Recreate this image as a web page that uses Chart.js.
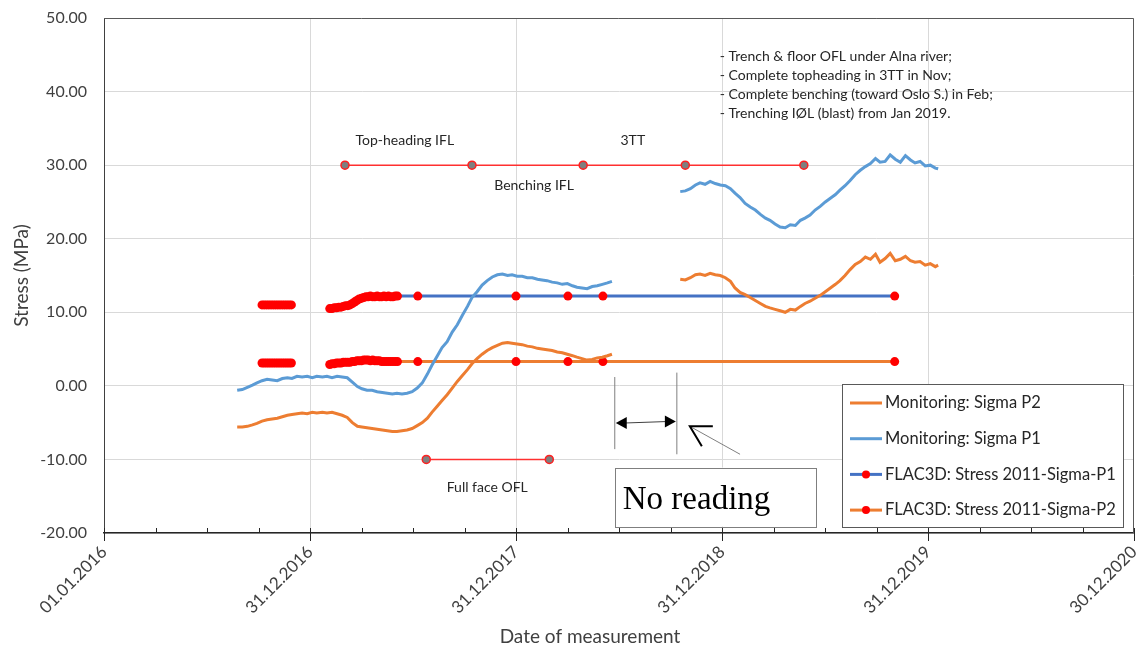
<!DOCTYPE html>
<html>
<head>
<meta charset="utf-8">
<script src="https://cdn.jsdelivr.net/npm/chart.js@4.4.1/dist/chart.umd.min.js"></script>
<style>
  html, body { margin: 0; padding: 0; background: #fff; }
</style>
</head>
<body>
<canvas id="stressChart" width="1141" height="652"></canvas>
<script>
// Days are counted from 01.01.2016, stress in MPa
const monitoringDays = [
  236, 245, 254, 263, 271, 280, 289, 298, 307, 316, 325, 333, 342, 351, 360, 369, 377, 387, 395, 404,
  413, 422, 431, 440, 449, 457, 466, 475, 484, 493, 502, 511, 519, 528, 537, 546, 555, 564, 573, 581,
  590, 599, 608, 617, 626, 635, 644, 652, 661, 670, 679, 688, 697, 706, 715, 723, 732, 741, 750, 759,
  768, 776, 785, 794, 803, 812, 821, 830, 838, 847, 856, 865, 874, 883, 892, 900,
  960, // no reading
  1021, 1030, 1039, 1048, 1056, 1065, 1074, 1083, 1092, 1101, 1110, 1118, 1127, 1136, 1145, 1154, 1163,
  1172, 1180, 1189, 1198, 1207, 1216, 1225, 1234, 1242, 1251, 1260, 1269, 1278, 1287, 1296, 1304, 1313,
  1322, 1331, 1340, 1349, 1358, 1367, 1375, 1384, 1393, 1402, 1411, 1420, 1429, 1437, 1446, 1455, 1464,
  1473, 1478
];
const sigmaP2Monitoring = [
  -5.6, -5.6, -5.5, -5.3, -5.1, -4.8, -4.6, -4.5, -4.4, -4.2, -4.0, -3.9, -3.8, -3.7, -3.8, -3.6, -3.7, -3.6, -3.7, -3.6,
  -3.8, -4.0, -4.3, -5.0, -5.5, -5.6, -5.7, -5.8, -5.9, -6.0, -6.1, -6.2, -6.2, -6.1, -6.0, -5.8, -5.4, -5.0, -4.4, -3.6,
  -2.8, -2.0, -1.2, -0.3, 0.6, 1.4, 2.2, 3.0, 3.7, 4.3, 4.8, 5.2, 5.5, 5.8, 5.9, 5.8, 5.7, 5.6, 5.4, 5.3,
  5.1, 5.0, 4.9, 4.8, 4.6, 4.5, 4.3, 4.1, 3.9, 3.7, 3.5, 3.6, 3.8, 3.9, 4.1, 4.3,
  null,
  14.5, 14.4, 14.7, 15.1, 15.2, 15.0, 15.3, 15.1, 15.0, 14.7, 14.2, 13.3, 12.7, 12.4, 12.0, 11.6, 11.2,
  10.8, 10.6, 10.4, 10.2, 10.0, 10.4, 10.3, 10.8, 11.2, 11.5, 11.9, 12.3, 12.8, 13.3, 13.8, 14.3, 15.0,
  15.8, 16.5, 16.9, 17.5, 17.2, 17.9, 16.8, 17.3, 18.0, 17.0, 17.2, 17.6, 17.0, 16.8, 16.9, 16.4, 16.6,
  16.2, 16.4
];
const sigmaP1Monitoring = [
  -0.6, -0.5, -0.2, 0.1, 0.4, 0.7, 0.9, 0.8, 0.7, 1.0, 1.1, 1.0, 1.3, 1.2, 1.3, 1.1, 1.3, 1.2, 1.3, 1.1,
  1.3, 1.2, 1.1, 0.5, -0.1, -0.4, -0.6, -0.6, -0.8, -0.9, -1.0, -1.1, -1.0, -1.1, -1.0, -0.8, -0.3, 0.4, 1.6, 2.8,
  4.0, 5.2, 6.0, 7.3, 8.3, 9.6, 10.8, 12.0, 12.8, 13.7, 14.3, 14.8, 15.1, 15.2, 15.0, 15.1, 14.9, 14.9, 14.7, 14.7,
  14.5, 14.4, 14.3, 14.1, 14.0, 13.8, 13.9, 13.6, 13.4, 13.3, 13.2, 13.5, 13.6, 13.8, 14.0, 14.2,
  null,
  26.4, 26.5, 26.8, 27.3, 27.6, 27.4, 27.8, 27.5, 27.3, 27.2, 26.8, 26.2, 25.6, 24.8, 24.3, 23.9, 23.3,
  22.8, 22.5, 22.0, 21.6, 21.5, 21.9, 21.8, 22.5, 22.8, 23.2, 23.9, 24.4, 25.0, 25.5, 26.0, 26.6, 27.2,
  27.9, 28.7, 29.3, 29.8, 30.2, 30.9, 30.4, 30.5, 31.4, 30.8, 30.4, 31.3, 30.7, 30.3, 30.5, 29.9, 30.0,
  29.6, 29.5
];

const flacDays = [
  280, 284, 288, 292, 296, 300, 304, 308, 312, 316, 320, 324, 328, 332,
  366,
  400, 404, 408, 412, 416, 420, 424, 428, 432, 436, 440, 444, 448, 452, 456, 460,
  464, 468, 472, 476, 480, 484, 488, 492, 496, 500, 504, 508, 512, 516, 520,
  556, 730, 822, 884, 1401
];
const flacSigmaP1 = [
  11.0, 11.0, 11.0, 11.0, 11.0, 11.0, 11.0, 11.0, 11.0, 11.0, 11.0, 11.0, 11.0, 11.0,
  null,
  10.5, 10.5, 10.6, 10.6, 10.7, 10.7, 10.8, 10.9, 10.9, 11.0, 11.2, 11.4, 11.6, 11.8, 11.9, 12.0,
  12.1, 12.1, 12.2, 12.1, 12.1, 12.2, 12.1, 12.1, 12.2, 12.1, 12.2, 12.1, 12.1, 12.2, 12.2,
  12.2, 12.2, 12.2, 12.2, 12.2
];
const flacSigmaP2 = [
  3.1, 3.1, 3.1, 3.1, 3.1, 3.1, 3.1, 3.1, 3.1, 3.1, 3.1, 3.1, 3.1, 3.1,
  null,
  2.9, 3.0, 3.0, 3.1, 3.1, 3.1, 3.2, 3.2, 3.2, 3.2, 3.3, 3.3, 3.4, 3.4, 3.4, 3.5,
  3.5, 3.5, 3.4, 3.5, 3.4, 3.4, 3.4, 3.3, 3.3, 3.3, 3.3, 3.3, 3.3, 3.3, 3.3,
  3.3, 3.3, 3.3, 3.3, 3.3
];

// excavation stages drawn as marker lines
const stageDays = [427, 652, 849, 1030, 1240];
const stageLevel = [30, 30, 30, 30, 30];
const fullFaceDays = [571, 789];
const fullFaceLevel = [-10, -10];

const xTickDays = [0, 365, 730, 1095, 1460, 1825];
const yTickValues = [-20, -10, 0, 10, 20, 30, 40, 50];

const noteLines = [
  '- Trench & floor OFL under Alna river;',
  '- Complete topheading in 3TT in Nov;',
  '- Complete benching (toward Oslo S.) in Feb;',
  '- Trenching I\u00D8L (blast) from Jan 2019.'
];

const FONT = 'Lato, "Noto Sans", sans-serif';
const TEXT = '#404040';

function toPoints(xs, ys) {
  return xs.map((d, i) => ({ x: d, y: ys[i] }));
}

function formatDay(v) {
  const d = new Date(Date.UTC(2016, 0, 1) + v * 86400000);
  const dd = String(d.getUTCDate()).padStart(2, '0');
  const mm = String(d.getUTCMonth() + 1).padStart(2, '0');
  return dd + '.' + mm + '.' + d.getUTCFullYear();
}

// frame, minor ticks, notes, arrows and legend
const decorations = {
  id: 'decorations',
  afterDraw(chart) {
    const { ctx, chartArea: a, scales: { x, y } } = chart;
    ctx.save();

    // top and right frame
    ctx.strokeStyle = '#595959';
    ctx.lineWidth = 1;
    ctx.beginPath();
    ctx.moveTo(a.left, a.top + 0.5);
    ctx.lineTo(a.right - 0.5, a.top + 0.5);
    ctx.lineTo(a.right - 0.5, a.bottom);
    ctx.stroke();

    // tick marks on the date axis
    ctx.strokeStyle = '#262626';
    for (let k = 0; k <= 20; k++) {
      const px = Math.round(x.getPixelForValue(k * 91.25)) + 0.5;
      ctx.beginPath();
      ctx.moveTo(px, a.bottom - 5);
      ctx.lineTo(px, a.bottom + (k % 4 === 0 ? 8 : 0));
      ctx.stroke();
    }

    // axis titles
    ctx.fillStyle = TEXT;
    ctx.font = '19px ' + FONT;
    ctx.textAlign = 'center';
    ctx.textBaseline = 'middle';
    ctx.fillText('Date of measurement', 590, 637);
    ctx.save();
    ctx.translate(22, (a.top + a.bottom) / 2);
    ctx.rotate(-Math.PI / 2);
    ctx.fillText('Stress (MPa)', 0, 0);
    ctx.restore();

    // stage labels
    ctx.fillStyle = '#262626';
    ctx.font = '14px ' + FONT;
    const label = (t, d, v) => ctx.fillText(t, x.getPixelForValue(d), y.getPixelForValue(v));
    label('Top-heading IFL', 533, 33.4);
    label('3TT', 937, 33.4);
    label('Benching IFL', 762, 27.3);
    label('Full face OFL', 679, -13.8);

    ctx.textAlign = 'left';
    ctx.font = '14px ' + FONT;
    noteLines.forEach((t, i) => ctx.fillText(t, x.getPixelForValue(1091), y.getPixelForValue(44.8) + i * 19));

    // no reading markers
    const px = d => x.getPixelForValue(d);
    const py = v => y.getPixelForValue(v);
    ctx.strokeStyle = '#7f7f7f';
    ctx.lineWidth = 1;
    ctx.beginPath();
    ctx.moveTo(px(905), py(1.2)); ctx.lineTo(px(905), py(-8.6));
    ctx.moveTo(px(1015), py(1.8)); ctx.lineTo(px(1015), py(-9.3));
    ctx.stroke();

    ctx.strokeStyle = '#404040';
    ctx.beginPath();
    ctx.moveTo(px(905) + 10, py(-5.05)); ctx.lineTo(px(1015) - 10, py(-4.85));
    ctx.stroke();
    ctx.fillStyle = '#000';
    const head = (tx, ty, dir) => {
      ctx.beginPath();
      ctx.moveTo(tx, ty);
      ctx.lineTo(tx - dir * 11, ty - 6);
      ctx.lineTo(tx - dir * 11, ty + 6);
      ctx.closePath();
      ctx.fill();
    };
    head(px(905) + 1, py(-5.05), -1);
    head(px(1015) - 1, py(-4.85), 1);

    // open arrow pointing at the gap
    const tipX = px(1038), tipY = py(-5.5);
    ctx.strokeStyle = '#7f7f7f';
    ctx.beginPath();
    ctx.moveTo(px(1127), py(-9.3)); ctx.lineTo(tipX, tipY);
    ctx.stroke();
    ctx.strokeStyle = '#000';
    ctx.lineWidth = 2;
    ctx.beginPath();
    ctx.moveTo(tipX + 23, tipY);
    ctx.lineTo(tipX, tipY);
    ctx.lineTo(tipX + 12, tipY + 20);
    ctx.stroke();

    // "No reading" box
    const bx = px(905), by = py(-11.1);
    ctx.fillStyle = '#fff';
    ctx.fillRect(bx, by, 201, 59);
    ctx.strokeStyle = '#7f7f7f';
    ctx.lineWidth = 1;
    ctx.strokeRect(Math.round(bx) + 0.5, Math.round(by) + 0.5, 201, 59);
    ctx.fillStyle = '#000';
    ctx.font = '33px "Liberation Serif", "Times New Roman", serif';
    ctx.textAlign = 'left';
    ctx.textBaseline = 'alphabetic';
    ctx.fillText('No reading', bx + 8, by + 41);

    // legend
    const lx = a.right - 292, ly = a.bottom - 149, lw = 281, lh = 143;
    ctx.fillStyle = '#fff';
    ctx.fillRect(lx, ly, lw, lh);
    ctx.strokeStyle = '#595959';
    ctx.strokeRect(lx + 0.5, ly + 0.5, lw, lh);
    ctx.font = '16.5px ' + FONT;
    ctx.textBaseline = 'middle';
    chart.data.datasets.slice(0, 4).forEach((ds, i) => {
      const ry = ly + 19 + i * 35.7;
      ctx.strokeStyle = ds.borderColor;
      ctx.lineWidth = 3;
      ctx.beginPath();
      ctx.moveTo(lx + 8, ry); ctx.lineTo(lx + 40, ry);
      ctx.stroke();
      if (ds.pointRadius > 0) {
        ctx.fillStyle = ds.pointBackgroundColor;
        ctx.beginPath();
        ctx.arc(lx + 24, ry, 4, 0, Math.PI * 2);
        ctx.fill();
      }
      ctx.fillStyle = '#262626';
      ctx.fillText(ds.label, lx + 43, ry);
    });

    ctx.restore();
  }
};

const ctx = document.getElementById('stressChart').getContext('2d');
new Chart(ctx, {
  type: 'line',
  data: {
    datasets: [{
      label: 'Monitoring: Sigma P2',
      data: toPoints(monitoringDays, sigmaP2Monitoring),
      borderColor: '#ED7D31',
      borderWidth: 3,
      pointRadius: 0
    }, {
      label: 'Monitoring: Sigma P1',
      data: toPoints(monitoringDays, sigmaP1Monitoring),
      borderColor: '#5B9BD5',
      borderWidth: 3,
      pointRadius: 0
    }, {
      label: 'FLAC3D: Stress 2011-Sigma-P1',
      data: toPoints(flacDays, flacSigmaP1),
      borderColor: '#4472C4',
      borderWidth: 3,
      pointRadius: 4.5,
      pointBackgroundColor: '#FF0000',
      pointBorderWidth: 0
    }, {
      label: 'FLAC3D: Stress 2011-Sigma-P2',
      data: toPoints(flacDays, flacSigmaP2),
      borderColor: '#ED7D31',
      borderWidth: 3,
      pointRadius: 4.5,
      pointBackgroundColor: '#FF0000',
      pointBorderWidth: 0
    }, {
      label: 'Stages',
      data: toPoints(stageDays, stageLevel),
      borderColor: '#FF3030',
      borderWidth: 1.5,
      pointRadius: 4,
      pointBackgroundColor: '#7F7F7F',
      pointBorderColor: '#FF2020',
      pointBorderWidth: 1.5
    }, {
      label: 'Full face OFL',
      data: toPoints(fullFaceDays, fullFaceLevel),
      borderColor: '#FF3030',
      borderWidth: 1.5,
      pointRadius: 4,
      pointBackgroundColor: '#7F7F7F',
      pointBorderColor: '#FF2020',
      pointBorderWidth: 1.5
    }]
  },
  options: {
    responsive: false,
    animation: false,
    spanGaps: false,
    layout: { padding: { top: 18, right: 7, left: 0, bottom: 0 } },
    plugins: {
      legend: { display: false },
      tooltip: { enabled: false }
    },
    scales: {
      x: {
        type: 'linear',
        min: xTickDays[0],
        max: xTickDays[xTickDays.length - 1],
        afterBuildTicks: scale => { scale.ticks = xTickDays.map(v => ({ value: v })); },
        afterFit: scale => {
          scale.height = 119;
          scale.paddingLeft = 0;
          scale.paddingRight = 0;
        },
        ticks: {
          autoSkip: false,
          maxRotation: 45,
          minRotation: 45,
          padding: 9,
          color: TEXT,
          font: { family: FONT, size: 17 },
          callback: v => formatDay(v)
        },
        grid: {
          drawTicks: false,
          color: c => (c.index === 0 || c.index === xTickDays.length - 1) ? 'rgba(0,0,0,0)' : '#d9d9d9'
        },
        border: { color: '#262626', width: 1.5 }
      },
      y: {
        min: yTickValues[0],
        max: yTickValues[yTickValues.length - 1],
        afterBuildTicks: scale => { scale.ticks = yTickValues.map(v => ({ value: v })); },
        afterFit: scale => {
          scale.width = 104;
          scale.paddingTop = 0;
          scale.paddingBottom = 0;
        },
        ticks: {
          padding: 17,
          color: TEXT,
          font: { family: FONT, size: 16 },
          callback: v => v.toFixed(2)
        },
        grid: { drawTicks: false, color: '#d9d9d9' },
        border: { color: '#404040' }
      }
    }
  },
  plugins: [decorations]
});
</script>
</body>
</html>
